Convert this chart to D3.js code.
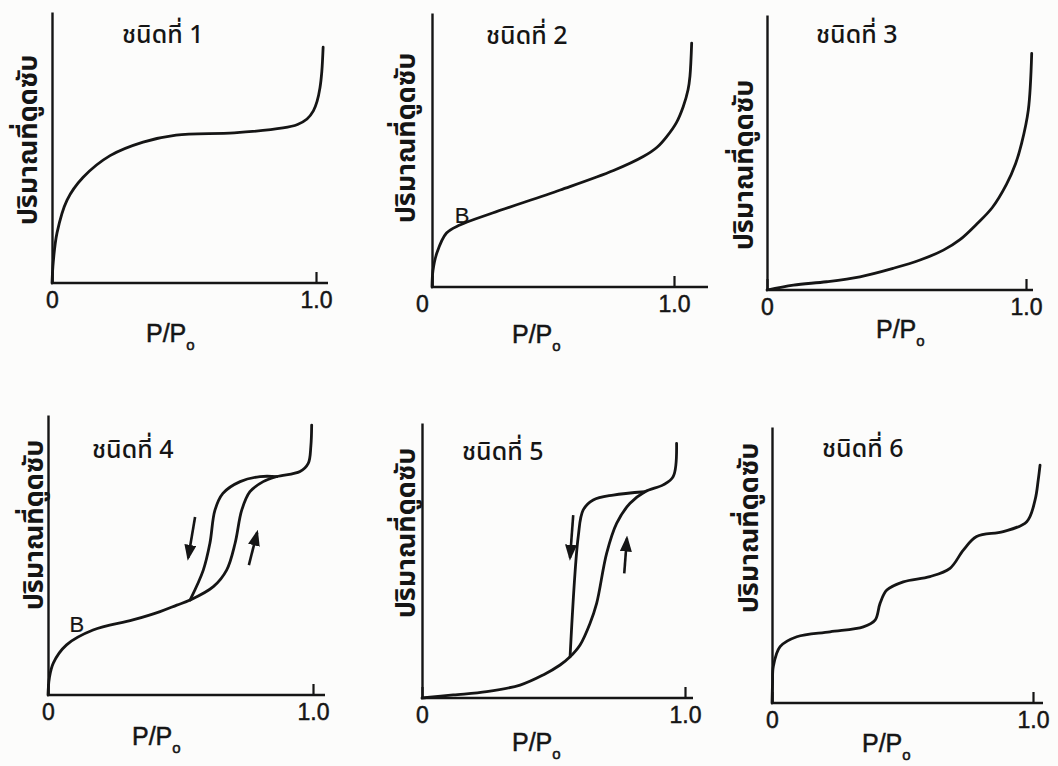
<!DOCTYPE html>
<html lang="th">
<head>
  <meta charset="UTF-8">
  <title>isotherm types</title>
  <script src="https://cdn.jsdelivr.net/npm/d3@7"></script>
  <style>
  body { margin: 0; background: #fcfcfb; }
  svg { display: block; }
  .lbl { font-family: "Liberation Sans", Arial, sans-serif; fill: #151515; stroke: #151515; stroke-width: 0.5px; }
  .thai { font-family: "Noto Sans Thai", "Loma", "Garuda", "Tlwg Typo", "DejaVu Sans", sans-serif; fill: #151515; }
  </style>
</head>
<body>
<script>
// ---- data (P/P0, amount adsorbed in % of axis height) ----
let titles = ['ชนิดที่ 1', 'ชนิดที่ 2', 'ชนิดที่ 3', 'ชนิดที่ 4', 'ชนิดที่ 5', 'ชนิดที่ 6'];
let yLabel = 'ปริมาณที่ดูดซับ';
let xTicks = [0, 1];
let xTickLabels = ['0', '1.0'];

let type1 = [[0, 0], [0.005, 8], [0.019, 18.5], [0.057, 30.6], [0.118, 39], [0.22, 47], [0.345, 52],
  [0.47, 54.6], [0.69, 55.4], [0.875, 57.2], [0.93, 58.5], [0.966, 60.5], [0.99, 63.5],
  [1.004, 67], [1.015, 72], [1.022, 78], [1.027, 87]];
let type2 = [[0, 0], [0.004, 6], [0.02, 12.4], [0.06, 19.7], [0.115, 22.6], [0.25, 27], [0.53, 35.4],
  [0.75, 42.5], [0.873, 47.6], [0.93, 51], [0.97, 54.9], [1.01, 60], [1.038, 65.8],
  [1.058, 72], [1.066, 77], [1.073, 89]];
let type3 = [[0, 0], [0.102, 1.8], [0.23, 3.0], [0.359, 4.8], [0.488, 7.9], [0.591, 10.9],
  [0.681, 14.5], [0.745, 18.3], [0.81, 24], [0.87, 30], [0.925, 38.5], [0.96, 46],
  [0.983, 53.3], [1.009, 65.5], [1.022, 86]];
let type4ads = [[0, 0], [0.005, 6], [0.02, 11.4], [0.07, 17.9], [0.17, 23.2], [0.32, 26.8],
  [0.423, 29.8], [0.486, 32.1], [0.536, 33.9], [0.624, 38.7], [0.674, 44.6], [0.706, 54.2],
  [0.731, 66], [0.762, 72.6], [0.812, 76.2], [0.863, 78], [0.951, 79.8], [0.982, 82.7],
  [0.992, 89], [0.995, 96.4]];
let type4des = [[0.536, 33.9], [0.586, 44.6], [0.611, 54.2], [0.63, 66], [0.66, 72],
  [0.725, 76.2], [0.8, 78], [0.863, 78]];
let type5ads = [[0, 0], [0.119, 1.1], [0.246, 2.3], [0.373, 4.7], [0.461, 8.4], [0.525, 12],
  [0.563, 15], [0.601, 19.3], [0.639, 27.2], [0.664, 34.4], [0.702, 52.6], [0.74, 63.5],
  [0.791, 70.8], [0.848, 75], [0.917, 77.5], [0.955, 80.5], [0.968, 92.6]];
let type5des = [[0.563, 15], [0.594, 58.7], [0.613, 68.4], [0.651, 72], [0.727, 73.8],
  [0.848, 75]];
let type6 = [[0, 0], [0.002, 7], [0.005, 13.2], [0.031, 20.4], [0.095, 24], [0.222, 25.8],
  [0.35, 27.6], [0.395, 30], [0.414, 36.1], [0.44, 40.9], [0.503, 43.9], [0.605, 45.8],
  [0.682, 48.8], [0.733, 55.4], [0.784, 60.3], [0.886, 62.1], [0.976, 65.7], [1.008, 73.6],
  [1.02, 80.8], [1.027, 86.2]];

// arrows: [x1, y1, x2, y2] from tail to tip
let arrows4 = [[0.555, 63.6, 0.529, 49], [0.758, 46.4, 0.789, 58]];
let arrows5 = [[0.575, 66.5, 0.563, 51], [0.769, 45.3, 0.779, 58]];
// point B: [x, y] (text centre, baseline)
let pointB2 = [0.124, 23.4];
let pointB4 = [0.109, 22.5];

// ---- layout (pixels) ----
let panels = [
  { curves: [type1], x0: 52, x1: 316, y0: 283, top: 12, xEnd: 328,
    title: [122, 43], yl: [37, 140], xl: [146, 342] },
  { curves: [type2], x0: 432, x1: 674, y0: 287, top: 13, xEnd: 708, zeroDx: -10, b: pointB2,
    title: [486, 44], yl: [415, 138], xl: [512, 343] },
  { curves: [type3], x0: 767, x1: 1026, y0: 290, top: 15, xEnd: 1033,
    title: [816, 43], yl: [753, 165], xl: [876, 338] },
  { curves: [type4ads, type4des], x0: 48, x1: 313, y0: 695, top: 415, xEnd: 325,
    arrows: arrows4, b: pointB4,
    title: [92, 458], yl: [43, 525], xl: [132, 745] },
  { curves: [type5ads, type5des], x0: 422, x1: 685, y0: 698, top: 423, xEnd: 693,
    arrows: arrows5,
    title: [462, 460], yl: [415, 533], xl: [512, 751] },
  { curves: [type6], x0: 772, x1: 1033, y0: 703, top: 427, xEnd: 1043,
    title: [822, 457], yl: [758, 528], xl: [862, 752] }
];

let width = 1058;
let height = 766;
let ink = '#151515';

let svg = d3.select('body').append('svg')
  .attr('width', width)
  .attr('height', height);

svg.append('defs').append('marker')
  .attr('id', 'head')
  .attr('viewBox', '0 0 16 12')
  .attr('refX', 13)
  .attr('refY', 6)
  .attr('markerUnits', 'userSpaceOnUse')
  .attr('markerWidth', 16)
  .attr('markerHeight', 12)
  .attr('orient', 'auto')
  .append('path')
  .attr('d', 'M0,0 L16,6 L0,12 Z')
  .attr('fill', ink);

function drawPanel(p, i) {
  let x = d3.scaleLinear().domain([0, 1]).range([p.x0, p.x1]);
  let y = d3.scaleLinear().domain([0, 100]).range([p.y0, p.top]);
  let g = svg.append('g');

  // y axis: plain line
  g.append('g')
    .attr('transform', 'translate(' + p.x0 + ',0)')
    .call(d3.axisLeft(y).tickValues([]).tickSizeOuter(0))
    .call(s => s.select('.domain').attr('stroke', ink).attr('stroke-width', 2.4));

  // x axis: line past 1.0, tick pointing up at 1.0
  g.append('line')
    .attr('x1', p.x0 - 1).attr('x2', p.xEnd)
    .attr('y1', p.y0).attr('y2', p.y0)
    .attr('stroke', ink).attr('stroke-width', 2.4);

  let xa = g.append('g')
    .attr('transform', 'translate(0,' + p.y0 + ')')
    .call(d3.axisBottom(x)
      .tickValues(xTicks)
      .tickFormat((d, k) => xTickLabels[k])
      .tickSizeInner(-11)
      .tickSizeOuter(0)
      .tickPadding(9));
  xa.select('.domain').remove();
  xa.selectAll('.tick line').attr('stroke', ink).attr('stroke-width', 2.2);
  xa.selectAll('.tick text')
    .attr('class', 'lbl')
    .attr('font-size', 23)
    .attr('dx', (d, k) => (k === 0 && p.zeroDx) ? p.zeroDx : 0);

  // curves
  let line = d3.line()
    .x(d => x(d[0]))
    .y(d => y(d[1]))
    .curve(d3.curveCatmullRom.alpha(0.5));

  g.selectAll('path.curve')
    .data(p.curves)
    .join('path')
    .attr('class', 'curve')
    .attr('d', line)
    .attr('fill', 'none')
    .attr('stroke', ink)
    .attr('stroke-width', 2.8)
    .attr('stroke-linecap', 'round');

  if (p.arrows) {
    g.selectAll('line.arrow')
      .data(p.arrows)
      .join('line')
      .attr('class', 'arrow')
      .attr('x1', d => x(d[0])).attr('y1', d => y(d[1]))
      .attr('x2', d => x(d[2])).attr('y2', d => y(d[3]))
      .attr('stroke', ink)
      .attr('stroke-width', 2.6)
      .attr('marker-end', 'url(#head)');
  }

  if (p.b) {
    g.append('text')
      .attr('class', 'lbl')
      .attr('x', x(p.b[0]))
      .attr('y', y(p.b[1]))
      .attr('text-anchor', 'middle')
      .attr('font-size', 22)
      .style('stroke-width', '0.2px')
      .text('B');
  }

  // title
  g.append('text')
    .attr('class', 'thai')
    .attr('x', p.title[0])
    .attr('y', p.title[1])
    .attr('font-size', 25)
    .attr('font-weight', 500)
    .text(titles[i]);

  // y label
  g.append('text')
    .attr('class', 'thai')
    .attr('transform', 'translate(' + p.yl[0] + ',' + p.yl[1] + ') rotate(-90)')
    .attr('text-anchor', 'middle')
    .attr('font-size', 27)
    .attr('font-weight', 'bold')
    .text(yLabel);

  // x label P/Po
  let xl = g.append('text')
    .attr('class', 'lbl')
    .attr('x', p.xl[0])
    .attr('y', p.xl[1])
    .attr('font-size', 25)
    .text('P/P');
  xl.append('tspan')
    .attr('dy', 8)
    .attr('font-size', 15)
    .text('o');
}

panels.forEach(drawPanel);
</script>
</body>
</html>
